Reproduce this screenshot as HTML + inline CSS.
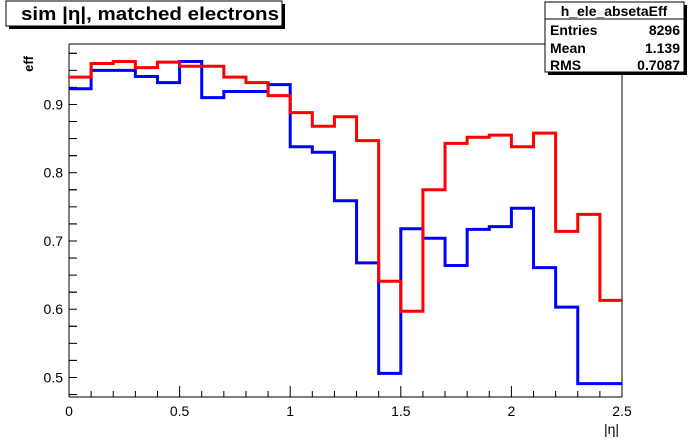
<!DOCTYPE html>
<html><head><meta charset="utf-8"><style>
body{margin:0;background:#fff;}
svg{display:block;font-family:"Liberation Sans",Arial,sans-serif;}
</style></head><body>
<svg id="chart" width="692" height="444" viewBox="0 0 692 444">
<rect x="0" y="0" width="692" height="444" fill="#fff"/>
<g id="frame">
<line x1="69" y1="44" x2="622" y2="44" stroke="#000" stroke-width="1"/>
<line x1="622" y1="44" x2="622" y2="397" stroke="#000" stroke-width="1"/>
<line x1="69" y1="44" x2="69" y2="397" stroke="#000" stroke-width="1"/>
<line x1="69" y1="397" x2="622" y2="397" stroke="#000" stroke-width="1"/>
</g>
<g id="axes"></g>
<g id="series"></g>
<g>
<rect x="9" y="4" width="276" height="25" fill="#000"/>
<rect x="6" y="1" width="276" height="25" fill="#fff" stroke="#000" stroke-width="1"/>
<text x="21" y="20" font-size="18" font-weight="bold" textLength="258" lengthAdjust="spacingAndGlyphs">sim |η|, matched electrons</text>
</g>
<g>
<rect x="548" y="5" width="139" height="70" fill="#000"/>
<rect x="545" y="2" width="139" height="70" fill="#fff" stroke="#000" stroke-width="1"/>
<line x1="545" y1="19" x2="684" y2="19" stroke="#000"/>
<text x="614" y="16" text-anchor="middle" font-size="14" font-weight="bold">h_ele_absetaEff</text>
<text x="550" y="35" font-size="14" font-weight="bold">Entries</text>
<text x="680" y="35" text-anchor="end" font-size="14" font-weight="bold">8296</text>
<text x="550" y="53" font-size="14" font-weight="bold">Mean</text>
<text x="680" y="53" text-anchor="end" font-size="14" font-weight="bold">1.139</text>
<text x="550" y="70" font-size="14" font-weight="bold">RMS</text>
<text x="680" y="70" text-anchor="end" font-size="14" font-weight="bold">0.7087</text>
</g>
<text x="0" y="0" transform="translate(33,56) rotate(-90)" text-anchor="end" font-size="13" font-weight="bold">eff</text>
<text x="604" y="434" font-size="14">|η|</text>
</svg>
<script>
const blueValues=[0.923,0.950,0.950,0.941,0.932,0.963,0.910,0.919,0.919,0.929,0.838,0.830,0.759,0.668,0.506,0.718,0.704,0.664,0.717,0.721,0.748,0.661,0.603,0.491,0.491];
const redValues=[0.940,0.960,0.963,0.954,0.962,0.956,0.956,0.940,0.932,0.913,0.888,0.868,0.882,0.847,0.641,0.597,0.775,0.843,0.852,0.855,0.838,0.858,0.714,0.739,0.613];
const xTickLabels=["0","0.5","1","1.5","2","2.5"];
const yTickLabels=["0.5","0.6","0.7","0.8","0.9"];
const xMin=0,xMax=2.5,binWidth=0.1;
const yMin=0.4714,yMax=0.9886;
const NS="http://www.w3.org/2000/svg";
function xs(v){return 69+(v-xMin)/(xMax-xMin)*553;}
function ys(v){return 397-(v-yMin)/(yMax-yMin)*353;}
function mk(tag,attrs,parent){const e=document.createElementNS(NS,tag);for(const k in attrs)e.setAttribute(k,attrs[k]);parent.appendChild(e);return e;}
const axes=document.getElementById('axes');
for(let i=0;i<=25;i++){const v=i*0.1;const major=i%5===0;
 const t=mk('line',{x1:xs(v),x2:xs(v),y1:397,y2:major?386:391,stroke:'#000'},axes);
 
 }
xTickLabels.forEach(function(l){const v=parseFloat(l);
 const t=mk('text',{x:xs(v),y:416,'text-anchor':'middle','font-size':'14'},axes);t.textContent=l;
 
 });
for(let i=0;i<=12;i++){const v=0.475+i*0.05;if(v>yMax)break;const major=Math.abs((v*10)-Math.round(v*10))<1e-6;
 const t=mk('line',{x1:69,x2:major?85:77,y1:ys(v),y2:ys(v),stroke:'#000'},axes);
 
 }
for(let i=0;i<=20;i++){const v=0.475+i*0.025;if(v>yMax)break;
 const t=mk('line',{x1:69,x2:77,y1:ys(v),y2:ys(v),stroke:'#000'},axes);
 
 }
yTickLabels.forEach(function(l){const v=parseFloat(l);
 const t=mk('text',{x:63,y:ys(v)+5,'text-anchor':'end','font-size':'14'},axes);t.textContent=l;
 
 });
function stepPath(vals){let d='';vals.forEach(function(v,i){const x0=xs(i*binWidth),x1=xs((i+1)*binWidth),y=ys(v);
 d+=(i===0?'M':'L')+x0+' '+y+' L'+x1+' '+y+' ';});return d;}
const series=document.getElementById('series');
const pb=mk('path',{d:stepPath(blueValues),fill:'none',stroke:'#0000ff','stroke-width':3},series);


const pr=mk('path',{d:stepPath(redValues),fill:'none',stroke:'#ff0000','stroke-width':3},series);


</script>
</body></html>
